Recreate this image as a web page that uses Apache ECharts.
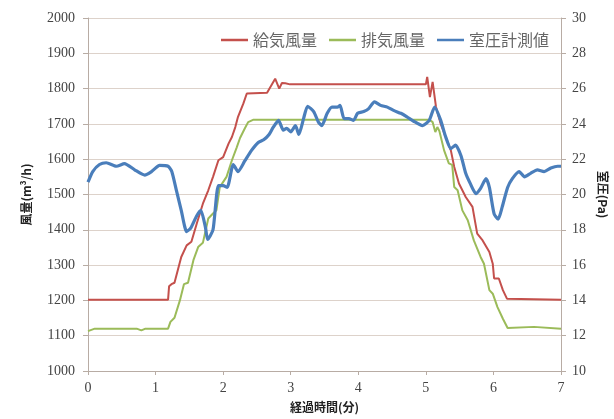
<!DOCTYPE html>
<html>
<head>
<meta charset="utf-8">
<script src="https://cdn.jsdelivr.net/npm/echarts@6/dist/echarts.min.js"></script>
<style>html,body{margin:0;padding:0;background:#fff;}#c{width:614px;height:419px;}</style>
</head>
<body>
<div id="c"></div>
<script>
// ---- data ----
var seriesNames = ['給気風量', '排気風量', '室圧計測値'];
var xTicks = [0, 1, 2, 3, 4, 5, 6, 7];

var supplyT = [0, 1.185, 1.20, 1.235, 1.28, 1.38, 1.46, 1.53, 1.61, 1.70, 1.78, 1.85, 1.93, 2.00, 2.08, 2.13, 2.18, 2.22, 2.30, 2.35, 2.65, 2.77, 2.83, 2.87, 2.92, 2.99, 5.00, 5.02, 5.06, 5.10, 5.15, 5.22, 5.30, 5.37, 5.42, 5.49, 5.59, 5.69, 5.76, 5.84, 5.94, 5.99, 6.01, 6.08, 6.14, 6.20, 7.0];
var supplyV = [1202, 1202, 1240, 1246, 1250, 1323, 1356, 1366, 1418, 1474, 1512, 1550, 1597, 1606, 1644, 1663, 1691, 1720, 1758, 1786, 1788, 1828, 1800, 1816, 1815, 1812, 1812, 1833, 1776, 1819, 1748, 1700, 1660, 1625, 1578, 1531, 1493, 1465, 1389, 1370, 1337, 1304, 1262, 1262, 1229, 1205, 1202];

var exhaustT = [0, 0.1, 0.72, 0.79, 0.85, 1.185, 1.22, 1.28, 1.36, 1.42, 1.48, 1.56, 1.63, 1.70, 1.78, 1.85, 1.90, 1.95, 2.05, 2.13, 2.20, 2.25, 2.32, 2.37, 2.45, 5.05, 5.10, 5.14, 5.17, 5.20, 5.27, 5.34, 5.39, 5.42, 5.47, 5.54, 5.62, 5.71, 5.81, 5.86, 5.94, 5.99, 6.06, 6.14, 6.21, 6.6, 7.0];
var exhaustV = [1113, 1120, 1120, 1115, 1120, 1120, 1139, 1151, 1200, 1246, 1250, 1314, 1351, 1363, 1432, 1446, 1455, 1521, 1550, 1597, 1633, 1660, 1687, 1705, 1712, 1712, 1705, 1677, 1691, 1680, 1625, 1588, 1584, 1521, 1512, 1455, 1427, 1370, 1323, 1304, 1229, 1219, 1181, 1148, 1122, 1125, 1120];

var pressureT = [0, 0.07, 0.17, 0.27, 0.42, 0.54, 0.69, 0.84, 0.94, 1.06, 1.185, 1.24, 1.31, 1.38, 1.46, 1.52, 1.61, 1.67, 1.74, 1.77, 1.85, 1.93, 2.00, 2.06, 2.15, 2.22, 2.32, 2.42, 2.52, 2.60, 2.68, 2.74, 2.82, 2.89, 2.94, 3.0, 3.07, 3.12, 3.19, 3.25, 3.34, 3.41, 3.46, 3.54, 3.61, 3.69, 3.73, 3.79, 3.86, 3.93, 3.99, 4.08, 4.15, 4.24, 4.33, 4.43, 4.53, 4.63, 4.72, 4.82, 4.95, 5.05, 5.13, 5.22, 5.29, 5.37, 5.44, 5.52, 5.59, 5.66, 5.74, 5.81, 5.89, 5.94, 6.01, 6.07, 6.13, 6.21, 6.28, 6.38, 6.46, 6.55, 6.65, 6.75, 6.85, 6.95, 7.0];
var pressureV = [20.7, 21.3, 21.7, 21.8, 21.6, 21.75, 21.4, 21.1, 21.3, 21.65, 21.6, 21.3, 20.2, 19.1, 17.9, 18.1, 18.8, 19.1, 18.1, 17.45, 18.0, 20.5, 20.5, 20.4, 21.7, 21.3, 21.9, 22.5, 22.95, 23.1, 23.4, 23.8, 24.2, 23.65, 23.75, 23.55, 23.9, 23.4, 24.3, 25.0, 24.7, 24.1, 23.9, 24.6, 24.95, 24.95, 25.05, 24.3, 24.3, 24.2, 24.6, 24.7, 24.85, 25.25, 25.05, 24.95, 24.75, 24.6, 24.4, 24.15, 23.9, 24.2, 24.95, 24.2, 23.3, 22.6, 22.8, 22.2, 21.2, 20.6, 20.05, 20.35, 20.9, 20.4, 18.9, 18.6, 19.3, 20.4, 20.9, 21.3, 21.0, 21.2, 21.4, 21.3, 21.5, 21.6, 21.6];

function zip(a, b) { return a.map(function (t, i) { return [t, b[i]]; }); }

var serif = 'serif';
var jp = 'Noto Sans CJK JP';
var axisLineColor = '#b8aca4';
var gridColor = '#ddd2ca';
var colors = ['#c4504c', '#9bbb59', '#4a7ebb'];

var chart = echarts.init(document.getElementById('c'), null, { renderer: 'canvas' });
chart.setOption({
  animation: false,
  backgroundColor: '#fff',
  grid: { left: 88, right: 53, top: 18, bottom: 48, containLabel: false, outerBoundsMode: 'none' },
  legend: {
    data: [
      { name: seriesNames[0], icon: 'rect', itemStyle: { color: colors[0] } },
      { name: seriesNames[1], icon: 'rect', itemStyle: { color: colors[1] } },
      { name: seriesNames[2], icon: 'rect', itemStyle: { color: colors[2] } }
    ],
    right: 60, top: 27,
    itemWidth: 27, itemHeight: 2.5, itemGap: 12,
    textStyle: { fontSize: 16, color: '#666', fontFamily: jp }
  },
  xAxis: {
    type: 'value', min: 0, max: 7, interval: 1,
    name: '経過時間(分)', nameLocation: 'middle', nameGap: 30,
    nameTextStyle: { fontSize: 12, color: '#222', fontWeight: 'bold', fontFamily: jp },
    axisLine: { show: true, lineStyle: { color: axisLineColor } },
    axisTick: { show: true, inside: false, length: 4, lineStyle: { color: axisLineColor } },
    axisLabel: { fontSize: 14, color: '#444', margin: 10, fontFamily: serif, formatter: function (v) { return xTicks.indexOf(v) >= 0 ? String(v) : ''; } },
    splitLine: { show: false }
  },
  yAxis: [{
    type: 'value', min: 1000, max: 2000, interval: 100,
    name: '風量(m³/h)', nameLocation: 'middle', nameGap: 56, nameRotate: 90,
    nameTextStyle: { fontSize: 12, color: '#222', fontWeight: 'bold', fontFamily: jp },
    axisLine: { show: true, lineStyle: { color: axisLineColor } },
    axisTick: { show: true, length: 5, lineStyle: { color: axisLineColor } },
    axisLabel: { fontSize: 14, color: '#444', margin: 13, fontFamily: serif, formatter: function (v) { return String(v); } },
    splitLine: { show: true, lineStyle: { color: gridColor, width: 1.2 } }
  }, {
    type: 'value', min: 10, max: 30, interval: 2,
    name: '室圧(Pa)', nameLocation: 'middle', nameGap: 33, nameRotate: -90,
    nameTextStyle: { fontSize: 12, color: '#222', fontWeight: 'bold', fontFamily: jp },
    axisLine: { show: true, lineStyle: { color: axisLineColor } },
    axisTick: { show: true, length: 5, lineStyle: { color: axisLineColor } },
    axisLabel: { fontSize: 14, color: '#444', margin: 11, fontFamily: serif, formatter: function (v) { return String(v); } },
    splitLine: { show: false }
  }],
  series: [{
    name: seriesNames[0], type: 'line', yAxisIndex: 0, showSymbol: false, symbol: 'none',
    data: zip(supplyT, supplyV),
    lineStyle: { color: colors[0], width: 2 }, itemStyle: { color: colors[0] }, z: 2
  }, {
    name: seriesNames[1], type: 'line', yAxisIndex: 0, showSymbol: false, symbol: 'none',
    data: zip(exhaustT, exhaustV),
    lineStyle: { color: colors[1], width: 2 }, itemStyle: { color: colors[1] }, z: 2
  }, {
    name: seriesNames[2], type: 'line', yAxisIndex: 1, showSymbol: false, symbol: 'none', smooth: 0.2,
    data: zip(pressureT, pressureV),
    lineStyle: { color: colors[2], width: 3.2 }, itemStyle: { color: colors[2] }, z: 3
  }]
});
</script>
</body>
</html>
